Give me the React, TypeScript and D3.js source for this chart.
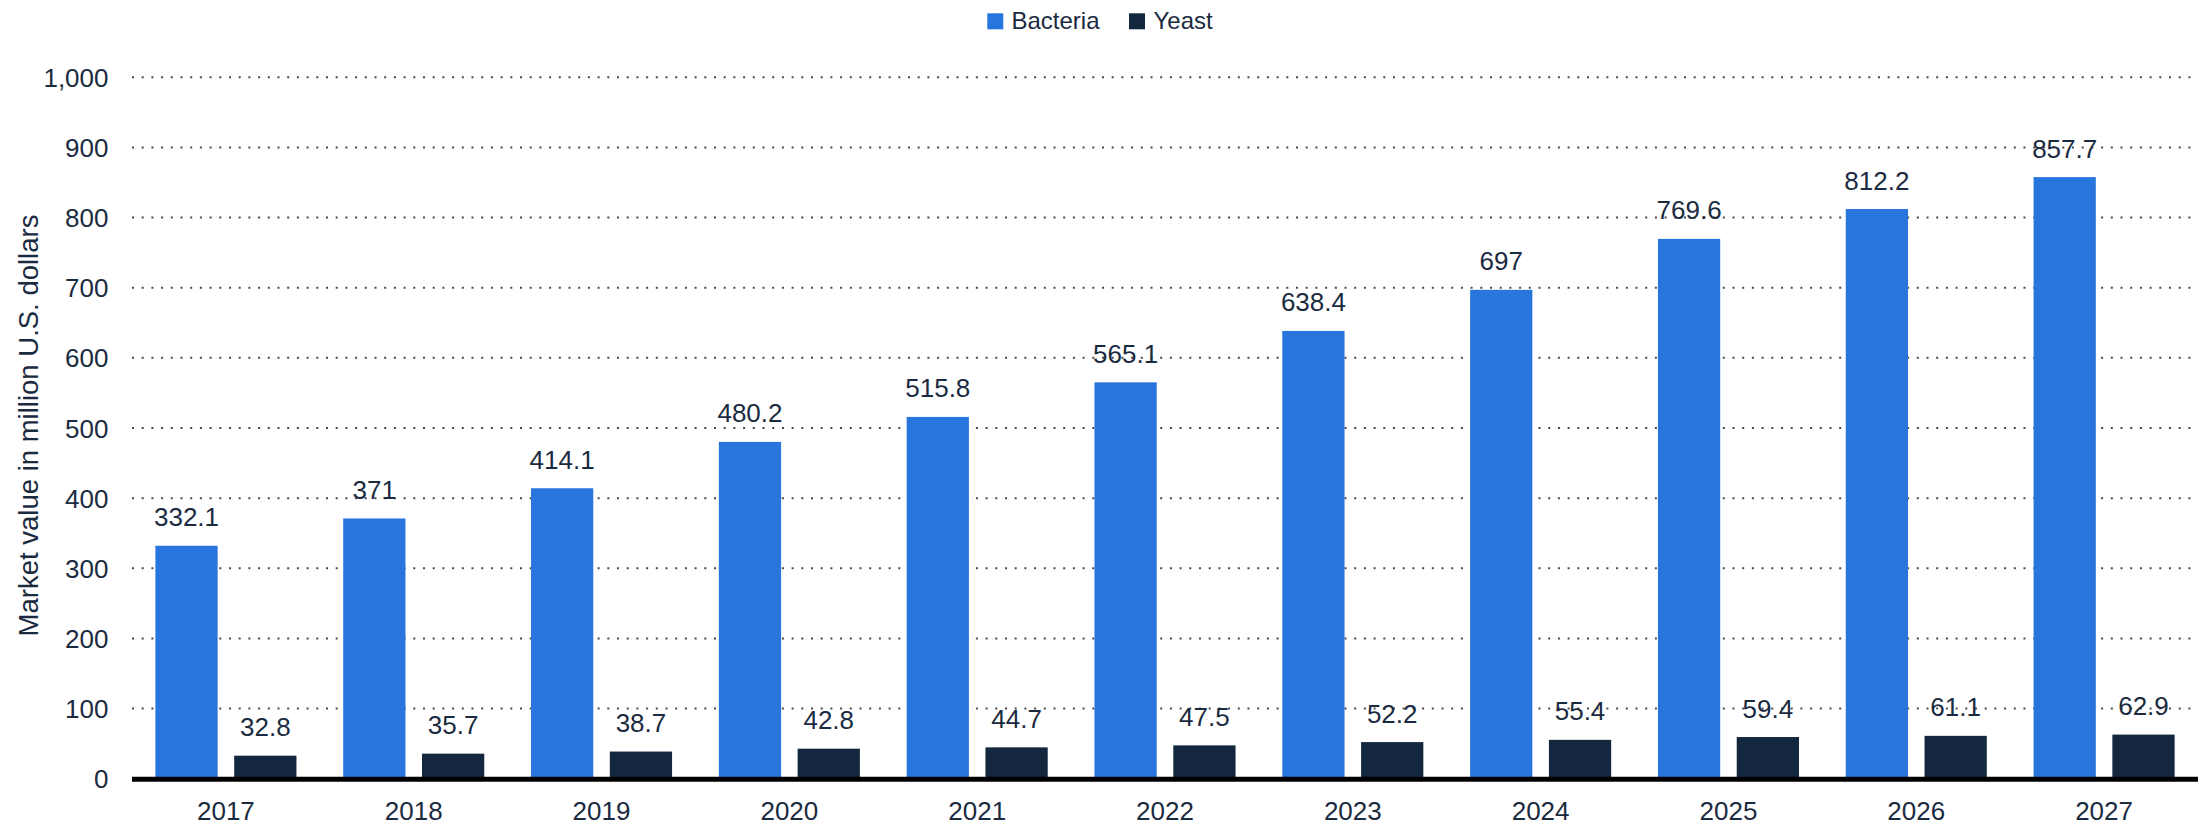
import React from "react";
import * as d3 from "d3";

const years = ["2017","2018","2019","2020","2021","2022","2023","2024","2025","2026","2027"];
const bacteria = [332.1, 371, 414.1, 480.2, 515.8, 565.1, 638.4, 697, 769.6, 812.2, 857.7];
const yeast = [32.8, 35.7, 38.7, 42.8, 44.7, 47.5, 52.2, 55.4, 59.4, 61.1, 62.9];
const seriesNames = ["Bacteria", "Yeast"];
const seriesColors = ["#2876dd", "#13283e"];
const yTicks = [0, 100, 200, 300, 400, 500, 600, 700, 800, 900, 1000];
const yTitle = "Market value in million U.S. dollars";

const W = 2212, H = 825;
const FONT = "'Liberation Sans', Arial, Helvetica, sans-serif";
const TEXT = "#1b2b3f";

export default function App() {
  const x0 = d3.scaleBand<string>().domain(years).range([132, 2198]).paddingInner(0.249).paddingOuter(0.1245);
  const x1 = d3.scaleBand<string>().domain(seriesNames).range([0, x0.bandwidth()]).paddingInner(0.21).paddingOuter(0);
  const y = d3.scaleLinear().domain([0, 1000]).range([778.7, 77.3]);
  const fmt = d3.format(",");
  const data = [bacteria, yeast];

  return (
    <svg width={W} height={H} style={{ position: "absolute", left: 0, top: 0, background: "#fff" }} fontFamily={FONT}>
      {/* legend */}
      <g>
        <rect x={987.3} y={13.3} width={16} height={16} fill={seriesColors[0]} />
        <text x={1011.5} y={29.3} fontSize={24} fill={TEXT}>{seriesNames[0]}</text>
        <rect x={1129} y={13.3} width={16} height={16} fill={seriesColors[1]} />
        <text x={1153.5} y={29.3} fontSize={24} fill={TEXT}>{seriesNames[1]}</text>
      </g>
      {/* grid */}
      {yTicks.filter(t => t > 0).map(t => (
        <line key={t} x1={132} x2={2198} y1={y(t)} y2={y(t)} stroke="#4a4a4a" strokeWidth={2} strokeDasharray="2 7.7" />
      ))}
      {/* y tick labels */}
      {yTicks.map(t => (
        <text key={t} x={108.5} y={y(t) + 9.5} textAnchor="end" fontSize={26} fill={TEXT}>{fmt(t)}</text>
      ))}
      {/* y title */}
      <text transform={`translate(38,425.5) rotate(-90)`} textAnchor="middle" fontSize={27.5} fill={TEXT}>{yTitle}</text>
      {/* bars */}
      {years.map((yr, i) => (
        <g key={yr} transform={`translate(${x0(yr)},0)`}>
          {seriesNames.map((s, j) => {
            const v = data[j][i];
            return (
              <rect key={s} x={x1(s)} y={y(v)} width={x1.bandwidth()} height={y(0) - y(v)} fill={seriesColors[j]} />
            );
          })}
        </g>
      ))}
      {/* value labels */}
      {years.map((yr, i) => (
        <g key={yr} transform={`translate(${x0(yr)},0)`}>
          {seriesNames.map((s, j) => {
            const v = data[j][i];
            return (
              <text key={s} x={(x1(s) as number) + x1.bandwidth() / 2} y={y(v) - 19.5} textAnchor="middle" fontSize={26} fill={TEXT}>{String(v)}</text>
            );
          })}
        </g>
      ))}
      {/* axis line */}
      <line x1={132} x2={2198} y1={779.2} y2={779.2} stroke="#000" strokeWidth={5} />
      {/* x labels */}
      {years.map(yr => (
        <text key={yr} x={(x0(yr) as number) + x0.bandwidth() / 2} y={819.5} textAnchor="middle" fontSize={26} fill={TEXT}>{yr}</text>
      ))}
    </svg>
  );
}
